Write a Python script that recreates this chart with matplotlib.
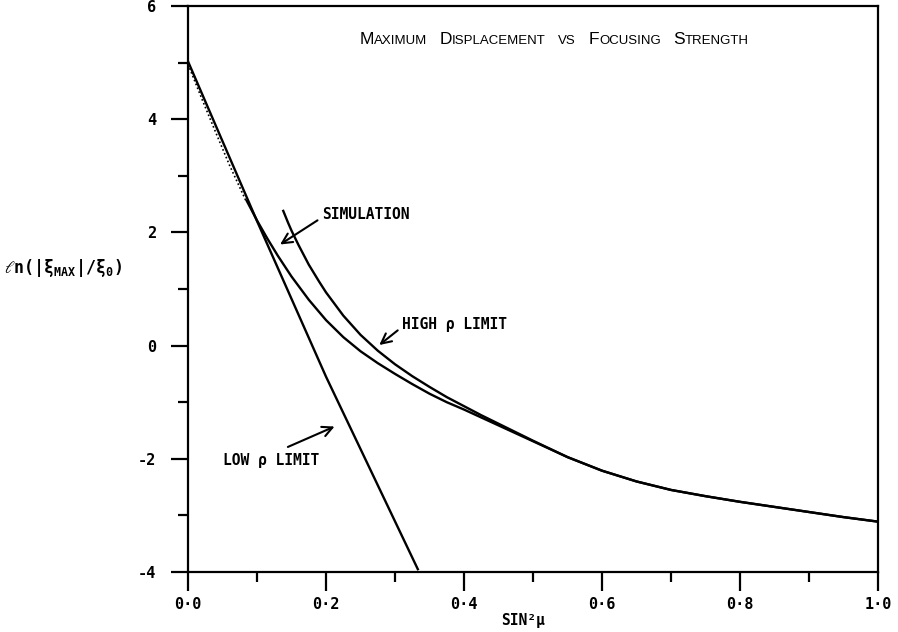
import matplotlib
matplotlib.use("Agg")
import matplotlib.pyplot as plt
from matplotlib.offsetbox import TextArea, HPacker, AnchoredOffsetbox

plt.rcParams['mathtext.fontset'] = 'custom'
plt.rcParams['mathtext.rm'] = 'DejaVu Sans Mono:bold'
plt.rcParams['mathtext.it'] = 'DejaVu Sans Mono:bold'
plt.rcParams['mathtext.bf'] = 'DejaVu Sans Mono:bold'
plt.rcParams['mathtext.fallback'] = 'stix'

# ---------------- data ----------------
low_x = [0.0, 0.1, 0.2, 0.333]
low_y = [5.02, 2.20, -0.55, -3.95]

sim_dot_x = [0.0, 0.02, 0.04, 0.06, 0.085]
sim_dot_y = [4.97, 4.36, 3.77, 3.19, 2.53]

sim_x = [0.085, 0.10, 0.115, 0.13, 0.15, 0.175, 0.20, 0.225, 0.25, 0.275, 0.30, 0.325,
         0.35, 0.375, 0.40, 0.425, 0.45, 0.475, 0.50, 0.55, 0.60, 0.65, 0.70, 0.75,
         0.80, 0.85, 0.90, 0.95, 1.0]
sim_y = [2.56, 2.21, 1.89, 1.59, 1.22, 0.81, 0.45, 0.15, -0.10, -0.31, -0.50, -0.68,
         -0.85, -1.00, -1.13, -1.27, -1.41, -1.55, -1.69, -1.97, -2.21, -2.40, -2.55, -2.66,
         -2.76, -2.85, -2.94, -3.03, -3.11]

high_x = [0.138, 0.145, 0.15, 0.16, 0.175, 0.19, 0.20, 0.225, 0.25, 0.275, 0.30, 0.325,
          0.35, 0.375, 0.40, 0.425, 0.45, 0.475, 0.50, 0.55, 0.60, 0.65, 0.70, 0.75,
          0.80, 0.85, 0.90, 0.95, 1.0]
high_y = [2.38, 2.17, 2.03, 1.78, 1.43, 1.13, 0.94, 0.53, 0.19, -0.09, -0.33, -0.54,
          -0.73, -0.91, -1.07, -1.23, -1.38, -1.53, -1.68, -1.97, -2.21, -2.40, -2.55, -2.66,
          -2.76, -2.85, -2.94, -3.03, -3.11]

x_ticks = [0.0, 0.2, 0.4, 0.6, 0.8, 1.0]
x_tick_labels = ["0·0", "0·2", "0·4", "0·6", "0·8", "1·0"]
x_minor = [0.1, 0.3, 0.5, 0.7, 0.9]
y_ticks = [-4, -2, 0, 2, 4, 6]
y_tick_labels = ["-4", "-2", "0", "2", "4", "6"]
y_minor = [-3, -1, 1, 3, 5]

title_words = [("M", "AXIMUM"), ("D", "ISPLACEMENT"), ("", "VS"), ("F", "OCUSING"), ("S", "TRENGTH")]

# ---------------- figure ----------------
fig = plt.figure(figsize=(8.98, 6.32), dpi=100)
ax = fig.add_axes([0.2094, 0.0949, 0.7684, 0.8956])

mono = dict(family=['DejaVu Sans Mono', 'DejaVu Sans'], fontweight='bold')
lw = 1.7
ax.plot(low_x, low_y, color='black', lw=lw, solid_joinstyle='round')
ax.plot(sim_dot_x, sim_dot_y, color='black', lw=1.2, linestyle=(0, (1, 1.5)))
ax.plot(sim_x, sim_y, color='black', lw=lw, solid_joinstyle='round')
ax.plot(high_x, high_y, color='black', lw=lw, solid_joinstyle='round')

ax.set_xlim(0, 1.0)
ax.set_ylim(-4, 6)
ax.set_xticks(x_ticks)
ax.set_xticklabels(x_tick_labels, fontsize=11, **mono)
ax.set_xticks(x_minor, minor=True)
ax.set_yticks(y_ticks)
ax.set_yticklabels(y_tick_labels, fontsize=11, **mono)
ax.set_yticks(y_minor, minor=True)
ax.tick_params(axis='x', which='major', direction='out', length=14, width=1.6, pad=4)
ax.tick_params(axis='x', which='minor', direction='out', length=7, width=1.6)
ax.tick_params(axis='y', which='major', direction='out', length=12, width=1.6, pad=11)
ax.tick_params(axis='y', which='minor', direction='out', length=7, width=1.6)
for s in ax.spines.values():
    s.set_linewidth(1.6)

# annotations
arrow = dict(arrowstyle='->', color='black', lw=1.5, mutation_scale=18)
ax.annotate("", xy=(0.130, 1.76), xytext=(0.191, 2.24), arrowprops=arrow)
ax.text(0.194, 2.31, "SIMULATION", fontsize=10.5, ha='left', va='center', **mono)
ax.annotate("", xy=(0.274, -0.02), xytext=(0.307, 0.30), arrowprops=arrow)
ax.text(0.310, 0.37, "HIGH ρ LIMIT", fontsize=10.5, ha='left', va='center', **mono)
ax.annotate("", xy=(0.216, -1.41), xytext=(0.141, -1.81), arrowprops=arrow)
ax.text(0.051, -2.03, "LOW ρ LIMIT", fontsize=10.5, ha='left', va='center', **mono)

# axis labels
fig.text(0.005, 1 - 268 / 632, r"$\ell$n(|ξ$_{MAX}$|/ξ$_{0}$)", fontsize=12, ha='left', va='center', **mono)
fig.text(523 / 898, 1 - 620 / 632, "SIN²μ", fontsize=10.5, ha='center', va='center', **mono)

# small-caps title
parts = []
for big, small in title_words:
    children = []
    if big:
        children.append(TextArea(big, textprops=dict(fontsize=12.5, family='Liberation Sans')))
    children.append(TextArea(small, textprops=dict(fontsize=9.5, family='Liberation Sans')))
    parts.append(HPacker(children=children, align='baseline', pad=0, sep=0))
title_box = HPacker(children=parts, align='baseline', pad=0, sep=9)
anchored = AnchoredOffsetbox(loc='center', child=title_box, pad=0, borderpad=0, frameon=False,
                             bbox_to_anchor=(554 / 898, 1 - 40 / 632), bbox_transform=fig.transFigure)
fig.add_artist(anchored)

fig.savefig("out.png", dpi=100)
